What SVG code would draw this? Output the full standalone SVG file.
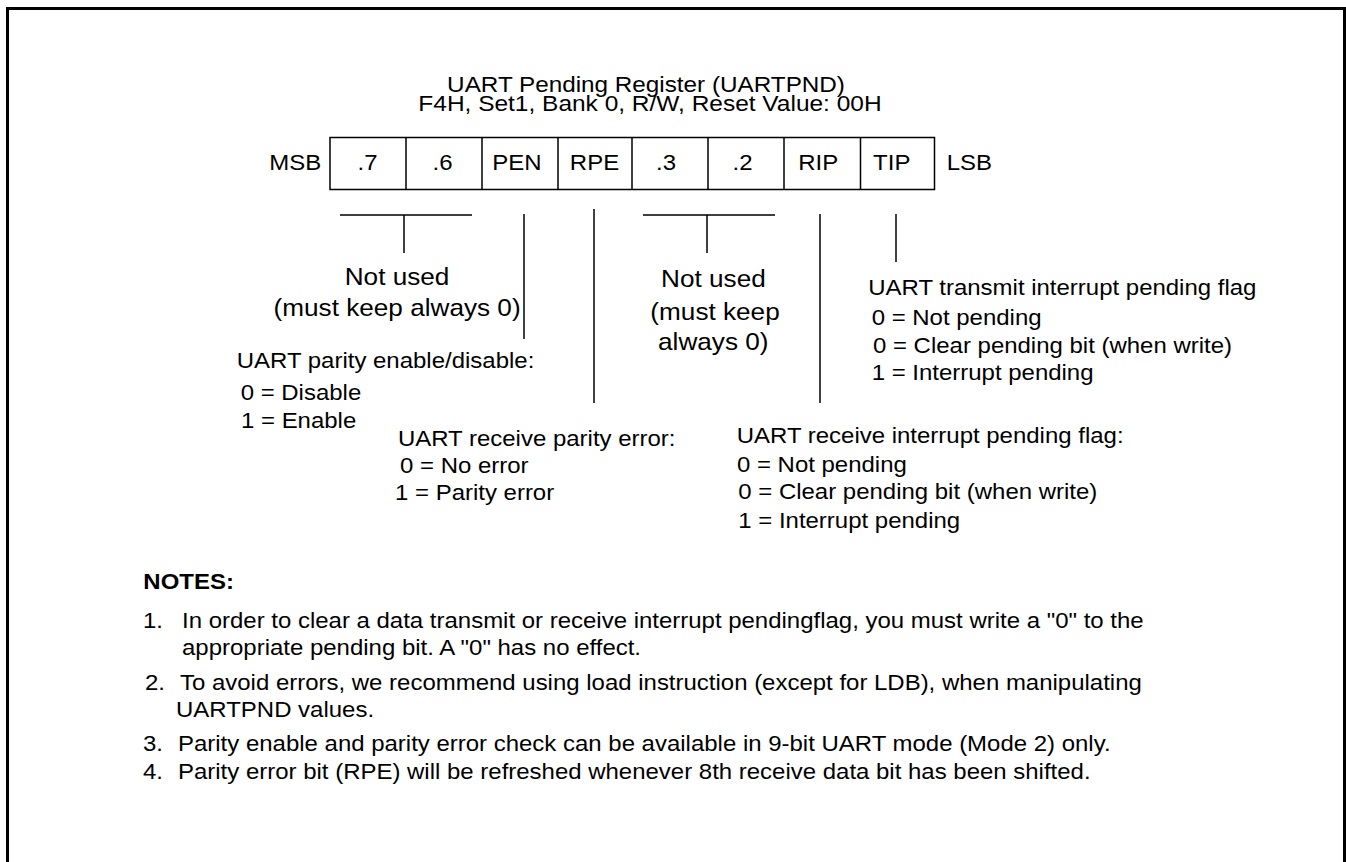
<svg xmlns="http://www.w3.org/2000/svg" width="1346" height="862" viewBox="0 0 1346 862">
<style>
text{font-family:"Liberation Sans",Arial,sans-serif;font-size:22px;fill:#000}
.c{text-anchor:middle}
.b{font-weight:bold}
.big{font-size:24px}
.ttl{font-size:21.5px}
.ln{stroke:#000;stroke-width:1.5;fill:none}
</style>
<rect x="0" y="0" width="1346" height="862" fill="#fff"/>
<rect id="frame" x="7.5" y="8.5" width="1337" height="900" fill="none" stroke="#000" stroke-width="3"/>
<g id="register">
<rect class="ln" x="330" y="137.5" width="604.5" height="52"/>
<path class="ln" d="M406 137.5V189.5M482 137.5V189.5M558 137.5V189.5M632 137.5V189.5M708 137.5V189.5M784 137.5V189.5M860.5 137.5V189.5"/>
</g>
<g id="connectors">
<path class="ln" d="M340 215H472M404 215V253"/>
<path class="ln" d="M524 214V339"/>
<path class="ln" d="M594 209V403"/>
<path class="ln" d="M643 215H775M707 215V253"/>
<path class="ln" d="M820 214V403"/>
<path class="ln" d="M896 214V262"/>
</g>
<g transform="scale(1.09 1)">
<g id="title">
<text class="c ttl" x="592.7" y="92" textLength="365" lengthAdjust="spacingAndGlyphs">UART Pending Register (UARTPND)</text>
<text class="c ttl" x="596.3" y="111" textLength="425" lengthAdjust="spacingAndGlyphs">F4H, Set1, Bank 0, R/W, Reset Value: 00H</text>
</g>
<g id="bits">
<text x="247.1" y="170">MSB</text>
<text class="c" x="337.2" y="170">.7</text>
<text class="c" x="406" y="170">.6</text>
<text class="c" x="474.3" y="170">PEN</text>
<text class="c" x="545.4" y="170">RPE</text>
<text class="c" x="611" y="170">.3</text>
<text class="c" x="681.2" y="170">.2</text>
<text class="c" x="750.7" y="170">RIP</text>
<text class="c" x="818.1" y="170">TIP</text>
<text x="868.5" y="170">LSB</text>
</g>
<g id="notused1">
<text class="c big" x="364.3" y="285">Not used</text>
<text class="c big" x="364.3" y="316">(must keep always 0)</text>
</g>
<g id="pen">
<text x="217.2" y="368">UART parity enable/disable:</text>
<text x="220.8" y="400">0 = Disable</text>
<text x="221.1" y="428">1 = Enable</text>
</g>
<g id="rpe">
<text x="365.1" y="446">UART receive parity error:</text>
<text x="367" y="473">0 = No error</text>
<text x="362.4" y="500">1 = Parity error</text>
</g>
<g id="notused2">
<text class="c big" x="654.5" y="287">Not used</text>
<text class="c big" x="656" y="320">(must keep</text>
<text class="c big" x="654.4" y="350">always 0)</text>
</g>
<g id="tip">
<text x="796.6" y="295">UART transmit interrupt pending flag</text>
<text x="799.7" y="325">0 = Not pending</text>
<text x="800.9" y="353">0 = Clear pending bit (when write)</text>
<text x="799.7" y="380">1 = Interrupt pending</text>
</g>
<g id="rip">
<text x="675.9" y="443">UART receive interrupt pending flag:</text>
<text x="676.1" y="472">0 = Not pending</text>
<text x="677.3" y="499">0 = Clear pending bit (when write)</text>
<text x="677.3" y="528">1 = Interrupt pending</text>
</g>
<g id="notes">
<text class="b" x="131.5" y="589">NOTES:</text>
<text x="131.2" y="628">1.<tspan x="167">In order to clear a data transmit or receive interrupt pendingflag, you must write a "0" to the</tspan></text>
<text x="167" y="655">appropriate pending bit.  A "0" has no effect.</text>
<text x="133" y="690">2.<tspan x="165.1">To avoid errors, we recommend using load instruction (except for LDB), when manipulating</tspan></text>
<text x="161.5" y="717">UARTPND values.</text>
<text x="131.2" y="751">3.<tspan x="163.3">Parity enable and parity error check can be available in 9-bit UART mode (Mode 2) only.</tspan></text>
<text x="131.2" y="779">4.<tspan x="163.3">Parity error bit (RPE) will be refreshed whenever 8th receive data bit has been shifted.</tspan></text>
</g>
</g>
</svg>
